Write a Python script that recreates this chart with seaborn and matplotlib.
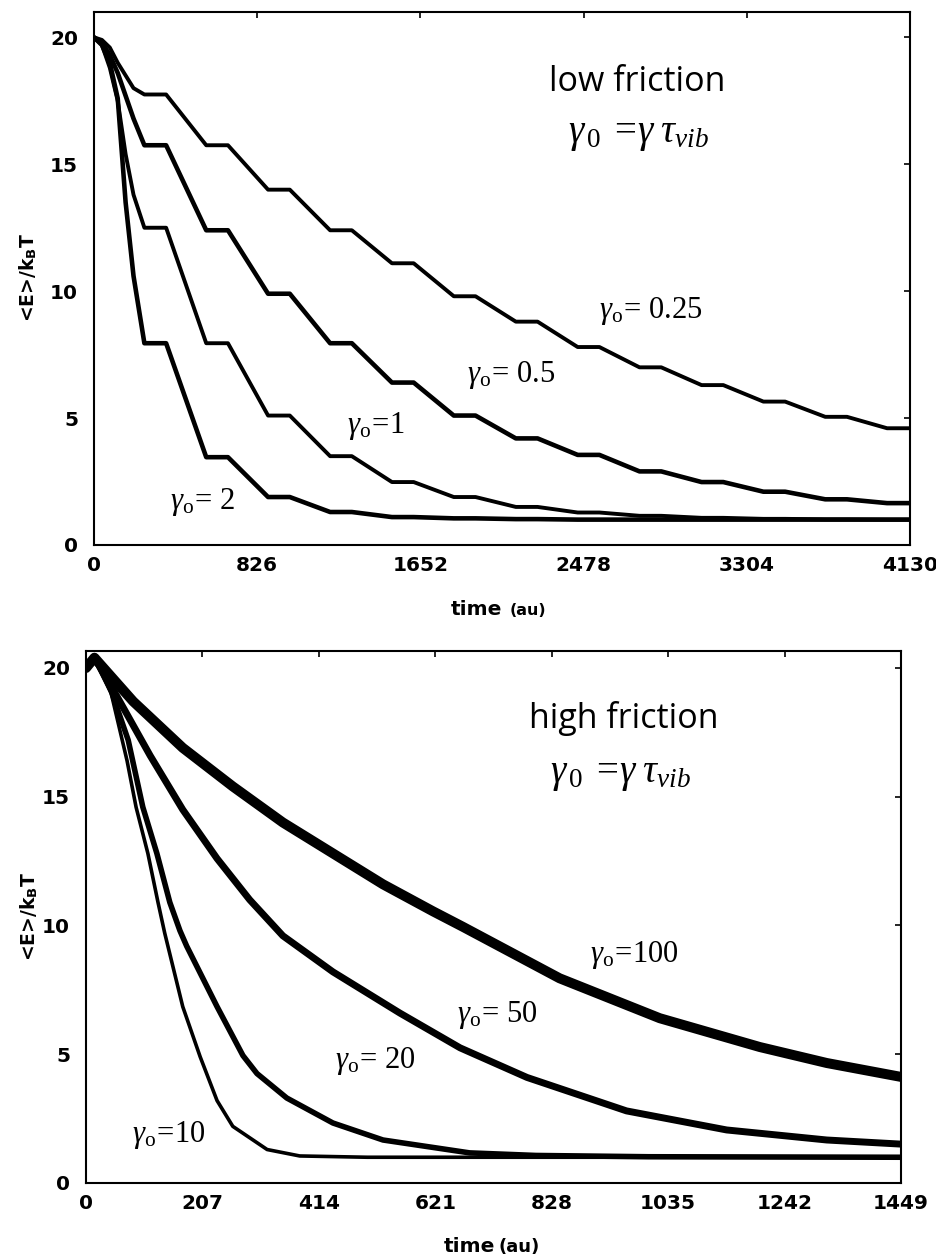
import numpy as np
import pandas as pd
import matplotlib
matplotlib.use("Agg")
import matplotlib.pyplot as plt
import seaborn as sns

# ---------------- data ----------------
# low friction panel: shared time grid (au)
t_low = [0, 40, 80, 120, 160, 200,
         255, 365, 568, 678, 881, 991, 1195, 1305, 1508, 1618,
         1821, 1931, 2135, 2245, 2448, 2558, 2761, 2871, 3075, 3185,
         3388, 3498, 3701, 3811, 4014, 4130]
E_g025 = [20.0, 19.9, 19.6, 19.0, 18.5, 18.0,
          17.75, 17.75, 15.75, 15.75, 14.0, 14.0, 12.4, 12.4, 11.1, 11.1,
          9.8, 9.8, 8.8, 8.8, 7.8, 7.8, 7.0, 7.0, 6.3, 6.3,
          5.65, 5.65, 5.05, 5.05, 4.6, 4.6]
E_g05 = [20.0, 19.8, 19.3, 18.6, 17.7, 16.8,
         15.75, 15.75, 12.4, 12.4, 9.9, 9.9, 7.95, 7.95, 6.4, 6.4,
         5.1, 5.1, 4.2, 4.2, 3.55, 3.55, 2.9, 2.9, 2.48, 2.48,
         2.1, 2.1, 1.8, 1.8, 1.65, 1.65]
E_g1 = [20.0, 19.7, 18.8, 17.5, 15.4, 13.8,
        12.5, 12.5, 7.95, 7.95, 5.1, 5.1, 3.5, 3.5, 2.48, 2.48,
        1.89, 1.89, 1.5, 1.5, 1.28, 1.28, 1.15, 1.15, 1.07, 1.07,
        1.03, 1.03, 1.01, 1.01, 1.0, 1.0]
E_g2 = [20.0, 19.7, 19.0, 17.6, 13.5, 10.6,
        7.95, 7.95, 3.46, 3.46, 1.89, 1.89, 1.3, 1.3, 1.1, 1.1,
        1.05, 1.05, 1.02, 1.02, 1.0, 1.0, 1.0, 1.0, 1.0, 1.0,
        1.0, 1.0, 1.0, 1.0, 1.0, 1.0]

# high friction panel
t_g100 = [0, 15, 84, 172, 261, 350, 439, 528, 617, 670, 842, 1020, 1198, 1317, 1449]
E_g100 = [20.0, 20.4, 18.7, 16.9, 15.4, 14.0, 12.8, 11.6, 10.55, 9.95, 7.95, 6.4, 5.28, 4.66, 4.12]
t_g50 = [0, 15, 55, 114, 172, 233, 291, 350, 439, 558, 665, 784, 961, 1139, 1317, 1449]
E_g50 = [20.0, 20.4, 18.9, 16.6, 14.5, 12.6, 11.0, 9.6, 8.2, 6.6, 5.25, 4.1, 2.8, 2.06, 1.67, 1.51]
t_g20 = [0, 15, 45, 75, 101, 126, 149, 167, 179, 233, 279, 304, 357, 439, 528, 682, 800, 1000, 1449]
E_g20 = [20.0, 20.4, 19.1, 17.2, 14.6, 12.8, 10.9, 9.8, 9.2, 6.85, 4.95, 4.25, 3.3, 2.33, 1.67, 1.17, 1.07, 1.02, 1.0]
t_g10 = [0, 15, 45, 73, 89, 110, 128, 140, 172, 203, 233, 261, 322, 380, 500, 1449]
E_g10 = [20.0, 20.4, 19.0, 16.4, 14.6, 12.8, 10.9, 9.7, 6.85, 4.9, 3.2, 2.2, 1.3, 1.05, 1.0, 1.0]

xticks_low = [0, 826, 1652, 2478, 3304, 4130]
xticks_high = [0, 207, 414, 621, 828, 1035, 1242, 1449]
yticks = [0, 5, 10, 15, 20]

labels_low = [r"$\gamma_{\rm o}\!=\,0.25$", r"$\gamma_{\rm o}\!=\,0.5$",
              r"$\gamma_{\rm o}\!=\!1$", r"$\gamma_{\rm o}\!=\,2$"]
labels_high = [r"$\gamma_{\rm o}\!=\!100$", r"$\gamma_{\rm o}\!=\,50$",
               r"$\gamma_{\rm o}\!=\,20$", r"$\gamma_{\rm o}\!=\!10$"]

# ---------------- style ----------------
sns.set_style("white")
plt.rcParams["font.family"] = ["DejaVu Sans"]
plt.rcParams["text.color"] = "black"
plt.rcParams["axes.labelcolor"] = "black"
plt.rcParams["xtick.color"] = "black"
plt.rcParams["ytick.color"] = "black"
plt.rcParams["mathtext.fontset"] = "custom"
plt.rcParams["mathtext.rm"] = "Liberation Serif"
plt.rcParams["mathtext.it"] = "Liberation Serif:italic"
plt.rcParams["mathtext.bf"] = "DejaVu Sans:bold"

W, H = 937, 1260
fig = plt.figure(figsize=(W / 100, H / 100), dpi=100)
ax1 = fig.add_axes([94 / W, 1 - 545 / H, (910 - 94) / W, (545 - 12) / H])
ax2 = fig.add_axes([86 / W, 1 - 1183 / H, (901 - 86) / W, (1183 - 651) / H])

lw_low = [2.8, 3.3, 2.8, 3.3]
for E, lw in zip([E_g025, E_g05, E_g1, E_g2], lw_low):
    sns.lineplot(x=t_low, y=E, ax=ax1, color="black", linewidth=lw,
                 estimator=None, sort=False)

for t, E, lw in zip([t_g100, t_g50, t_g20, t_g10],
                    [E_g100, E_g50, E_g20, E_g10],
                    [7.2, 5.0, 4.0, 2.6]):
    sns.lineplot(x=t, y=E, ax=ax2, color="black", linewidth=lw,
                 estimator=None, sort=False)

for ax, xt, xmax, ymax in [(ax1, xticks_low, 4130, 21.0),
                           (ax2, xticks_high, 1449, 20.66)]:
    ax.set_xlim(0, xmax)
    ax.set_ylim(0, ymax)
    ax.set_xticks(xt)
    ax.set_yticks(yticks)
    ax.set_xticklabels([str(v) for v in xt])
    ax.set_yticklabels([str(v) for v in yticks])
    ax.tick_params(direction="in", length=4, width=1.2, top=True, right=True,
                   labelsize=14.5, colors="black")
    ax.tick_params(axis="y", pad=11.5)
    ax.tick_params(axis="x", pad=8)
    for lab in ax.get_xticklabels() + ax.get_yticklabels():
        lab.set_fontweight("bold")
    for sp in ax.spines.values():
        sp.set_linewidth(1.5)
        sp.set_color("black")
        sp.set_visible(True)
    ax.set_xlabel("")
    ax.set_ylabel("")

formula = r"$\gamma_{\,0}\;=\!\gamma\;\tau_{vib}$"

# annotations, low friction
ax1.text(2751, 17.87, "low friction", ha="center", va="baseline",
         fontsize=24.5, family="Open Sans")
ax1.text(2757, 16.2, formula, ha="center", va="center", fontsize=28)
for lab, (x, y) in zip(labels_low, [(2554, 8.94), (1890, 6.42), (1282, 4.41), (385, 1.42)]):
    ax1.text(x, y, lab, ha="left", va="baseline", fontsize=22)

# annotations, high friction
ax2.text(956, 17.67, "high friction", ha="center", va="baseline",
         fontsize=24.5, family="Open Sans")
ax2.text(951, 15.9, formula, ha="center", va="center", fontsize=28)
for lab, (x, y) in zip(labels_high, [(896, 8.58), (659, 6.25), (442, 4.47), (82, 1.6)]):
    ax2.text(x, y, lab, ha="left", va="baseline", fontsize=22)

# axis titles
ylab = r"<E>/k$_\mathbf{B}$T"
fig.text(28 / W, 1 - 278 / H, ylab, rotation=90, ha="center", va="center",
         fontsize=13.5, fontweight="bold")
fig.text(29 / W, 1 - 917 / H, ylab, rotation=90, ha="center", va="center",
         fontsize=13.5, fontweight="bold")
fig.text(502 / W, 1 - 615 / H, "time", ha="right", va="baseline",
         fontsize=14.5, fontweight="bold")
fig.text(510 / W, 1 - 615 / H, "(au)", ha="left", va="baseline",
         fontsize=11.5, fontweight="bold")
fig.text(495 / W, 1 - 1252 / H, "time", ha="right", va="baseline",
         fontsize=14.5, fontweight="bold")
fig.text(498 / W, 1 - 1252 / H, "(au)", ha="left", va="baseline",
         fontsize=13, fontweight="bold")

fig.savefig("out.png", dpi=100)
